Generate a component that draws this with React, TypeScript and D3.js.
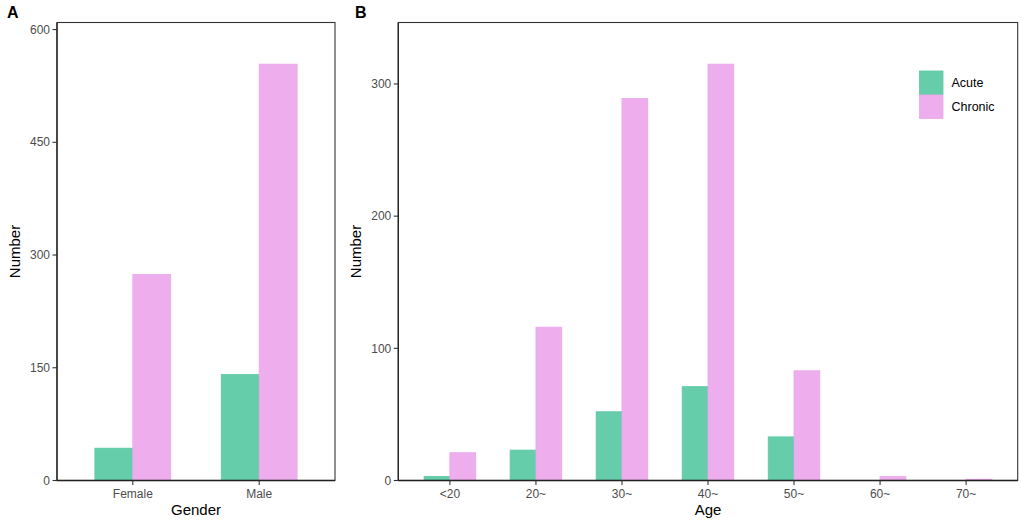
import * as d3 from "d3"

// panel A: gender
const genders = ["Female", "Male"]
const genderAcute = [43, 141]
const genderChronic = [274, 554]
const genderTicks = [0, 150, 300, 450, 600]

// panel B: age group
const ages = ["<20", "20~", "30~", "40~", "50~", "60~", "70~"]
const ageAcute = [3, 23, 52, 71, 33, 0, 0]
const ageChronic = [21, 116, 289, 315, 83, 3, 1]
const ageTicks = [0, 100, 200, 300]

const seriesNames = ["Acute", "Chronic"]
const fills = ["#66CDAA", "#EEAEEE"]
const strokes = ["#5cc8a2", "#eba6eb"]

const W = 1021
const H = 521
const font = "Liberation Sans, Arial, sans-serif"

type PanelProps = {
  label: string
  labelX: number
  cats: string[]
  acute: number[]
  chronic: number[]
  ticks: number[]
  xTitle: string
  left: number
  right: number
  legend?: boolean
}

function Panel({ label, labelX, cats, acute, chronic, ticks, xTitle, left, right, legend }: PanelProps) {
  const top = 22.5
  const bottom = 480.5
  const ymax = d3.max(chronic.concat(acute))! * 1.1

  // discrete axis with ggplot's 0.6 expansion on each side
  const x = d3.scaleLinear().domain([0.4, cats.length + 0.6]).range([left, right])
  const y = d3.scaleLinear().domain([0, ymax]).range([bottom, top])
  const bw = x(1.3) - x(1)

  const bars = cats.flatMap((c, i) =>
    [acute[i], chronic[i]].map((v, s) => ({
      key: `${c}-${s}`,
      x: x(i + 1) - bw + s * bw,
      y: y(v),
      h: y(0) - y(v),
      s,
    })),
  )

  return (
    <g fontFamily={font}>
      <text x={labelX} y={18} fontSize={16} fontWeight={700}>
        {label}
      </text>

      {bars
        .filter((b) => b.h > 0)
        .map((b) => (
          <rect
            key={b.key}
            x={b.x}
            y={b.y}
            width={bw}
            height={b.h}
            fill={fills[b.s]}
            stroke={strokes[b.s]}
            strokeWidth={0.8}
          />
        ))}

      <rect x={left} y={top} width={right - left} height={bottom - top} fill="none" stroke="#333" strokeWidth={1.1} />
      <line x1={left} x2={left} y1={top} y2={bottom} stroke="#222" strokeWidth={1.3} />
      <line x1={left} x2={right} y1={bottom} y2={bottom} stroke="#222" strokeWidth={1.3} />

      {ticks.map((t) => (
        <g key={t}>
          <line x1={left - 4.5} x2={left} y1={y(t)} y2={y(t)} stroke="#333" strokeWidth={1.1} />
          <text x={left - 7} y={y(t)} dy="0.35em" textAnchor="end" fontSize={12} fill="#4d4d4d">
            {t}
          </text>
        </g>
      ))}

      {cats.map((c, i) => (
        <g key={c}>
          <line x1={x(i + 1)} x2={x(i + 1)} y1={bottom} y2={bottom + 4.5} stroke="#333" strokeWidth={1.1} />
          <text x={x(i + 1)} y={bottom + 17} textAnchor="middle" fontSize={12} fill="#4d4d4d">
            {c}
          </text>
        </g>
      ))}

      <text x={(left + right) / 2} y={bottom + 34} textAnchor="middle" fontSize={15}>
        {xTitle}
      </text>
      <text
        transform={`translate(${left - 37},${(top + bottom) / 2}) rotate(-90)`}
        textAnchor="middle"
        fontSize={15}
      >
        Number
      </text>

      {legend &&
        seriesNames.map((n, s) => (
          <g key={n} transform={`translate(919.5,${71 + s * 24})`}>
            <rect width={23.5} height={23.5} fill={fills[s]} stroke={strokes[s]} strokeWidth={0.8} />
            <text x={32} y={12} dy="0.35em" fontSize={12.5}>
              {n}
            </text>
          </g>
        ))}
    </g>
  )
}

export default function App() {
  return (
    <svg width={W} height={H} style={{ position: "absolute", left: 0, top: 0, background: "#fff" }}>
      <rect width={W} height={H} fill="#fff" />
      <Panel
        label="A"
        labelX={7}
        cats={genders}
        acute={genderAcute}
        chronic={genderChronic}
        ticks={genderTicks}
        xTitle="Gender"
        left={57}
        right={335}
      />
      <Panel
        label="B"
        labelX={355}
        cats={ages}
        acute={ageAcute}
        chronic={ageChronic}
        ticks={ageTicks}
        xTitle="Age"
        left={398.3}
        right={1017.7}
        legend
      />
    </svg>
  )
}
